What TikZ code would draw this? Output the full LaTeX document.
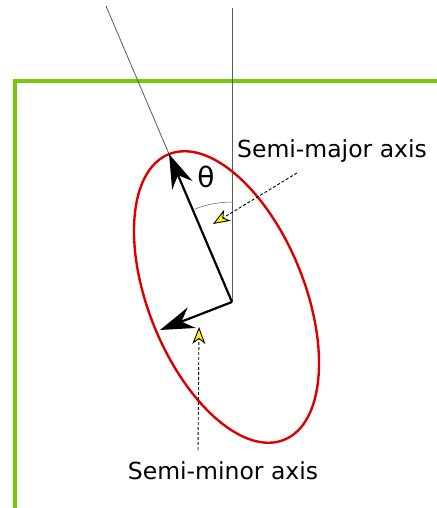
\documentclass[tikz,border=0pt]{standalone}
\usepackage{fontspec}
\setmainfont{DejaVu Sans}
\usepackage{tikz}
\usetikzlibrary{positioning, arrows.meta, calc}

\definecolor{framegreen}{RGB}{118,200,12}
\definecolor{ellred}{RGB}{222,0,0}

\begin{document}
\begin{tikzpicture}[
        x=1pt, y=1pt,
        frame/.style={draw=framegreen, line width=4pt},
        guide/.style={draw=black!65, line width=0.8pt},
        axis_arrow/.style={-{Stealth[length=34pt, width=22pt, inset=11pt]}, line width=2.2pt, color=black},
        pointer/.style={-{Stealth[length=17pt, width=13pt, inset=5pt, fill=yellow]}, dashed, dash pattern=on 3pt off 2pt, line width=0.9pt, color=black},
        axis_label/.style={color=black, font=\fontsize{23.5}{28}\selectfont}
    ]
    \useasboundingbox (0,0) rectangle (436,508);

    % frame
    \draw[frame] (14.5,-10) -- (14.5,427) -- (446,427);

    % centre, axis ends and guide lines
    \coordinate (origin) at (232,206);
    \coordinate (major_end) at (169,354);
    \coordinate (minor_end) at (160,178);
    \coordinate (vert_top) at (232,500);
    \coordinate (slant_top) at (106,502);
    \draw[guide] (vert_top) -- (origin);
    \draw[guide] (slant_top) -- (origin);

    % ellipse
    \draw[ellred, line width=2.4pt, rotate around={22:(226.5,211)}] (226.5,211) ellipse [x radius=78pt, y radius=154pt];

    % angle
    \draw[guide, line width=0.5pt] (origin) ++(90:100pt) arc[start angle=90, end angle=112, radius=100pt];
    \node[font=\fontsize{28}{30}\selectfont] (theta) at (206,331) {θ};

    % semi axes
    \draw[axis_arrow] (origin) -- (major_end);
    \draw[axis_arrow] (origin) -- (minor_end);

    % labels and pointers
    \node[axis_label] (major_label) at (332,357) {Semi-major axis};
    \node[axis_label] (minor_label) at (223,37) {Semi-minor axis};
    \coordinate (major_tip) at (213,284);
    \coordinate (minor_tip) at (199,181);
    \draw[pointer] (297,335) -- (major_tip);
    \draw[pointer] (198,58) -- (minor_tip);
\end{tikzpicture}
\end{document}
